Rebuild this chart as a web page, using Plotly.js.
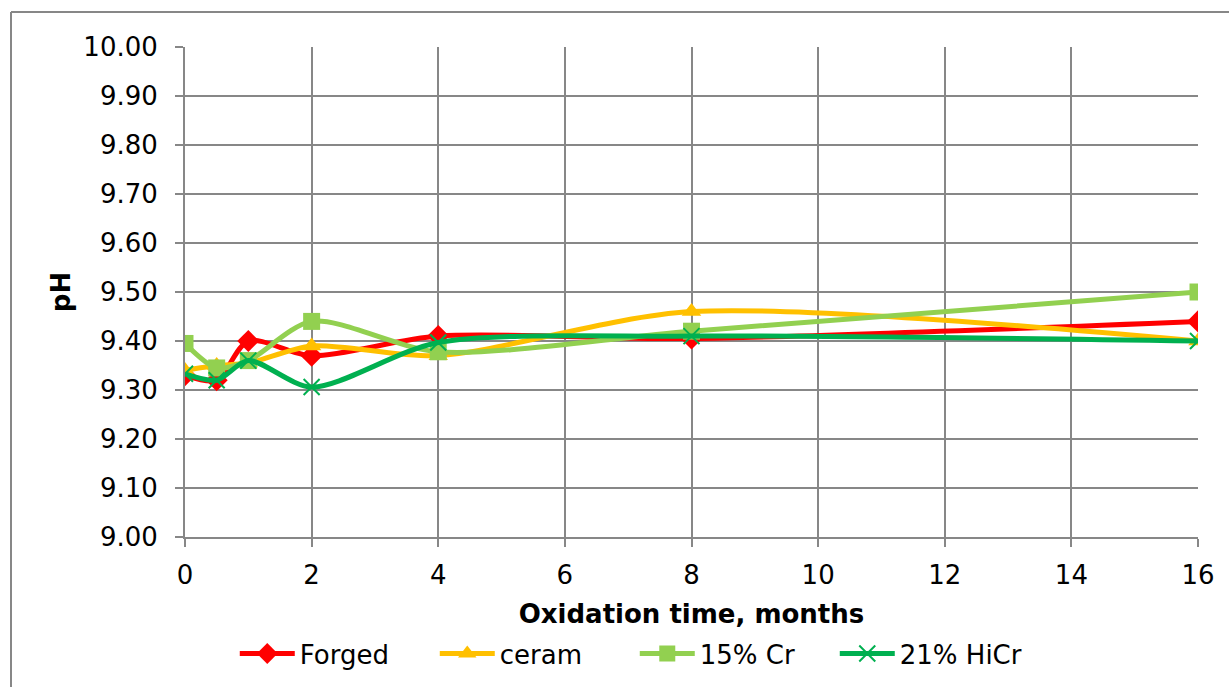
<!DOCTYPE html>
<html>
<head>
<meta charset="utf-8">
<script src="https://cdn.plot.ly/plotly-3.0.1.min.js"></script>
<style>
html,body{margin:0;padding:0;background:#fff;}
#chart{width:1229px;height:687px;}
</style>
</head>
<body>
<div id="chart"></div>
<script>
const months = [0, 0.5, 1, 2, 4, 8, 16];
const forged = [9.33, 9.32, 9.40, 9.37, 9.41, 9.405, 9.44];
const ceram  = [9.34, 9.35, 9.355, 9.39, 9.37, 9.46, 9.40];
const cr15   = [9.395, 9.345, 9.36, 9.44, 9.378, 9.42, 9.50];
const hicr21 = [9.333, 9.32, 9.36, 9.306, 9.397, 9.41, 9.40];
const names = ["Forged", "ceram", "15% Cr", "21% HiCr"];
const colors = ["#FF0000", "#FFC000", "#92D050", "#00B050"];
const symbols = ["diamond", "triangle-up", "square", "x-thin"];
const series = [forged, ceram, cr15, hicr21];

const traces = series.map((ys, i) => ({
  x: months, y: ys, name: names[i], type: "scatter", mode: "lines+markers",
  line: {color: colors[i], width: 5, shape: "spline", smoothing: 0.8},
  marker: {symbol: symbols[i], size: i === 3 ? 16 : 17, color: colors[i],
           line: {color: colors[i], width: i === 3 ? 2 : 0}}
}));

const font = {family: "DejaVu Sans, Verdana, sans-serif", size: 26, color: "#000"};
const L = 185, R = 1198, T = 47, B = 537;
const pw = R - L, ph = B - T;

const layout = {
  width: 1229, height: 687,
  margin: {l: L, r: 1229 - R, t: T, b: 687 - B, autoexpand: false},
  paper_bgcolor: "#fff", plot_bgcolor: "#fff",
  font: font,
  showlegend: true,
  legend: {orientation: "h", x: 0.444, xanchor: "center", y: -0.19, yanchor: "top",
           font: {family: font.family, size: 26, color: "#000"}, itemwidth: 55, tracegroupgap: 0,
           entrywidthmode: "pixels", entrywidth: 130},
  xaxis: {
    range: [0, 16], tickvals: [0, 2, 4, 6, 8, 10, 12, 14, 16],
    showgrid: true, gridcolor: "#878787", gridwidth: 2,
    showline: true, linecolor: "#878787", linewidth: 2, mirror: false,
    ticks: "outside", ticklen: 8, tickcolor: "#878787", tickwidth: 2,
    zeroline: false, tickfont: font, ticklabelstandoff: 6,
    title: {text: "<b>Oxidation time, months</b>", font: font, standoff: 16}
  },
  yaxis: {
    range: [9.0, 10.0], dtick: 0.1, tickformat: ".2f",
    showgrid: true, gridcolor: "#878787", gridwidth: 2,
    showline: true, linecolor: "#878787", linewidth: 2,
    ticks: "outside", ticklen: 8, tickcolor: "#878787", tickwidth: 2,
    zeroline: false, tickfont: font, ticklabelstandoff: 12,
    title: {text: "<b>pH</b>", font: font, standoff: 5}
  },
  shapes: [
    {type: "line", xref: "paper", yref: "paper",
     x0: (11 - L) / pw, x1: (1229 - L) / pw, y0: (B - 12) / ph, y1: (B - 12) / ph,
     line: {color: "#878787", width: 2}},
    {type: "line", xref: "paper", yref: "paper",
     x0: (11 - L) / pw, x1: (11 - L) / pw, y0: (B - 12) / ph, y1: (B - 700) / ph,
     line: {color: "#878787", width: 2}}
  ]
};

Plotly.newPlot("chart", traces, layout, {displayModeBar: false, staticPlot: true});
</script>
</body>
</html>
